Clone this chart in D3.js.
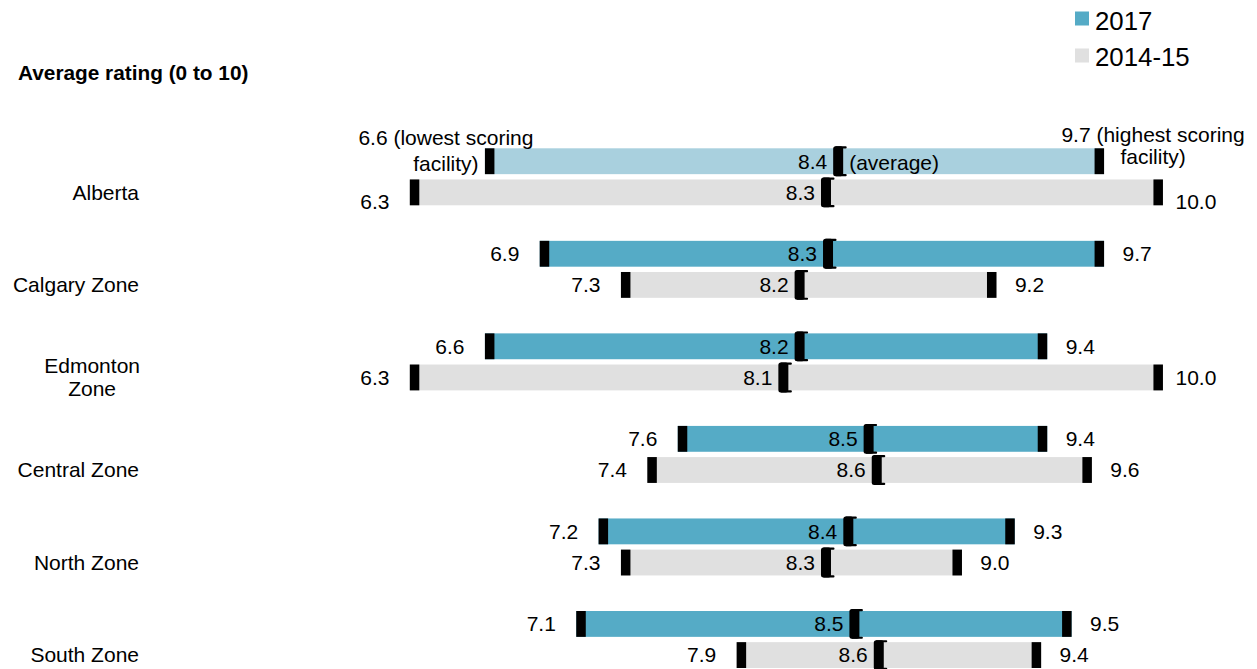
<!DOCTYPE html>
<html><head><meta charset="utf-8">
<script src="https://cdn.jsdelivr.net/npm/d3@7"></script>
<style>
body{margin:0;background:#fff}
svg{display:block}
text{font-family:"Liberation Sans",Arial,Helvetica,sans-serif;fill:#000}
</style>
</head><body>
<svg id="c" width="1257" height="669"></svg>
<script>
const categories = ["Alberta","Calgary Zone","Edmonton Zone","Central Zone","North Zone","South Zone"];
const seriesNames = ["2017","2014-15"];
const min2017 = [6.64, 6.91, 6.64, 7.59, 7.20, 7.09];
const avg2017 = [8.39, 8.34, 8.20, 8.54, 8.44, 8.47];
const max2017 = [9.69, 9.69, 9.41, 9.41, 9.25, 9.53];
const min1415 = [6.27, 7.31, 6.27, 7.44, 7.31, 7.88];
const avg1415 = [8.33, 8.20, 8.12, 8.58, 8.33, 8.59];
const max1415 = [9.98, 9.16, 9.98, 9.63, 8.99, 9.38];
const titleText = "Average rating (0 to 10)";
const lowNote = ["(lowest scoring", "facility)"];
const highNote = ["(highest scoring", "facility)"];
const avgNote = "(average)";

const fmt = d3.format(".1f");
const svg = d3.select("#c");
const x = d3.scaleLinear().domain([6, 10]).range([355, 1167]);
const yRow = d3.scalePoint().domain(categories).range([148.3, 611]);
const ySer = d3.scaleBand().domain(seriesNames).range([0, 57]).paddingInner(0.17);
const bh = ySer.bandwidth();
const color = d3.scaleOrdinal().domain(seriesNames).range(["#55abc6", "#e0e0e0"]);
const highlight = "#a9d0de";
const FS = 21;

const rows = categories.flatMap((c, i) => [
  {cat: c, i, s: "2017", min: min2017[i], avg: avg2017[i], max: max2017[i]},
  {cat: c, i, s: "2014-15", min: min1415[i], avg: avg1415[i], max: max1415[i]}
]);
const barTop = d => yRow(d.cat) + ySer(d.s);
const mid = d => barTop(d) + bh / 2;

// title
svg.append("text").attr("x", 18).attr("y", 80)
  .attr("font-size", 20.8).attr("font-weight", "bold").text(titleText);

// legend
const leg = svg.append("g");
seriesNames.forEach((s, k) => {
  leg.append("rect").attr("x", 1075).attr("y", 11.5 + k * 37).attr("width", 14).attr("height", 14).attr("fill", color(s));
  leg.append("text").attr("x", 1095).attr("y", 30 + k * 36).attr("font-size", 25.8).text(s);
});

// category labels
categories.forEach(c => {
  const cy = yRow(c) + ySer("2014-15") + bh / 2;
  const t = svg.append("text").attr("font-size", FS).attr("text-anchor", "end").attr("x", 139).attr("y", cy).attr("dy", "0.35em").text(c);
  if (t.node().getComputedTextLength() > 135) {
    const words = c.split(" ");
    t.text(null).attr("dy", null).attr("text-anchor", "middle");
    const lens = words.map(w => { t.text(w); return t.node().getComputedTextLength(); });
    t.text(null);
    const cx = 140 - d3.max(lens) / 2;
    words.forEach((w, k) => {
      t.append("tspan").attr("x", cx).attr("y", cy + (k - (words.length - 1) / 2) * 23).attr("dy", "0.35em").text(w);
    });
  }
});

// bars
const g = svg.append("g");
g.selectAll("rect.bar").data(rows).join("rect").attr("class", "bar")
  .attr("x", d => x(d.min)).attr("width", d => x(d.max) - x(d.min))
  .attr("y", barTop).attr("height", bh)
  .attr("fill", d => (d.i === 0 && d.s === "2017") ? highlight : color(d.s));

// min / max markers
g.selectAll("rect.mn").data(rows).join("rect").attr("class", "mn")
  .attr("x", d => x(d.min)).attr("width", 9.5).attr("y", barTop).attr("height", bh).attr("fill", "#000");
g.selectAll("rect.mx").data(rows).join("rect").attr("class", "mx")
  .attr("x", d => x(d.max) - 9.5).attr("width", 9.5).attr("y", barTop).attr("height", bh).attr("fill", "#000");

// average markers ("[" shape)
const am = g.selectAll("g.avg").data(rows).join("g").attr("class", "avg");
am.append("rect").attr("x", d => x(d.avg) - 7).attr("y", d => barTop(d) - 2).attr("width", 10).attr("height", bh + 4).attr("rx", 2.5).attr("fill", "#000");
am.append("rect").attr("x", d => x(d.avg) - 5).attr("y", d => barTop(d) - 2).attr("width", 11.5).attr("height", 2.2).attr("rx", 1).attr("fill", "#000");
am.append("rect").attr("x", d => x(d.avg) - 5).attr("y", d => barTop(d) + bh + 2 - 2.2).attr("width", 11.5).attr("height", 2.2).attr("rx", 1).attr("fill", "#000");

// average labels
g.selectAll("text.al").data(rows).join("text").attr("class", "al")
  .attr("font-size", FS).attr("text-anchor", "end")
  .attr("x", d => x(d.avg) - 13).attr("y", mid).attr("dy", "0.35em")
  .text(d => fmt(d.avg));

// min/max labels
const plain = rows.filter(d => !(d.i === 0 && d.s === "2017"));
const ext = d => (d.i === 0 && d.s === "2014-15") ? 9 : 0;
g.selectAll("text.ml").data(plain).join("text").attr("class", "ml")
  .attr("font-size", FS).attr("text-anchor", "middle")
  .attr("x", d => x(d.min) + 5 - 40).attr("y", d => mid(d) + ext(d)).attr("dy", "0.35em")
  .text(d => fmt(d.min));
g.selectAll("text.xl").data(plain).join("text").attr("class", "xl")
  .attr("font-size", FS).attr("text-anchor", "middle")
  .attr("x", d => x(d.max) - 5 + 38).attr("y", d => mid(d) + ext(d)).attr("dy", "0.35em")
  .text(d => fmt(d.max));

// annotated first row (Alberta 2017)
const a = rows[0];
const lowT = g.append("text").attr("font-size", FS).attr("text-anchor", "middle");
lowT.append("tspan").attr("x", x(a.min) + 5 - 44).attr("y", mid(a) - 24).attr("dy", "0.35em").text(fmt(a.min) + " " + lowNote[0]);
lowT.append("tspan").attr("x", x(a.min) + 5 - 44).attr("y", mid(a) + 2).attr("dy", "0.35em").text(lowNote[1]);
const highT = g.append("text").attr("font-size", FS).attr("text-anchor", "middle");
highT.append("tspan").attr("x", x(a.max) - 5 + 54).attr("y", mid(a) - 27).attr("dy", "0.35em").text(fmt(a.max) + " " + highNote[0]);
highT.append("tspan").attr("x", x(a.max) - 5 + 54).attr("y", mid(a) - 4.5).attr("dy", "0.35em").text(highNote[1]);
g.append("text").attr("font-size", FS).attr("x", x(a.avg) + 9).attr("y", mid(a) + 1).attr("dy", "0.35em").text(avgNote);
</script>
</body></html>
